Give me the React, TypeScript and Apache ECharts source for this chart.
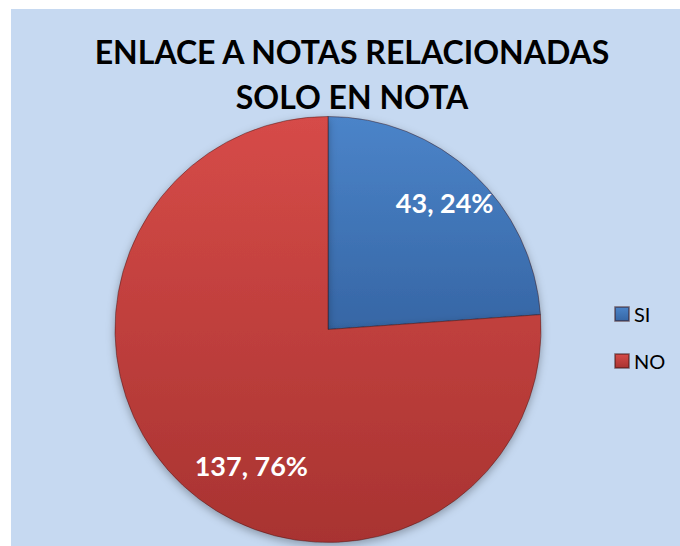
import React, { useEffect, useRef } from "react";
import * as echarts from "echarts";

const TITLE_LINES = ["ENLACE A NOTAS RELACIONADAS", "SOLO EN NOTA"];
const CATEGORIES = ["SI", "NO"];
const VALUES = [43, 137];
const TOP_COLORS = ["#4b84c9", "#d64b48"];
const BOTTOM_COLORS = ["#3666a5", "#a83331"];
const LABEL_SHIFT = [
  [42, -47],
  [-2, 56],
];

const FONT = "Lato, 'Open Sans', 'DejaVu Sans', sans-serif";

export default function App() {
  const ref = useRef<HTMLDivElement>(null);
  useEffect(() => {
    if (!ref.current) return;
    const chart = echarts.init(ref.current, undefined, { renderer: "svg" });
    const grad = (i: number) =>
      new echarts.graphic.LinearGradient(0, 0, 0, 1, [
        { offset: 0, color: TOP_COLORS[i] },
        { offset: 1, color: BOTTOM_COLORS[i] },
      ]);
    chart.setOption({
      animation: false,
      backgroundColor: "#c6d9f1",
      title: {
        text: TITLE_LINES.join("\n"),
        left: 341,
        textAlign: "center",
        top: 20,
        padding: 0,
        textStyle: {
          fontFamily: FONT,
          fontWeight: "bold",
          fontSize: 32,
          lineHeight: 45,
          color: "#000",
        },
      },
      legend: {
        orient: "vertical",
        left: 598,
        top: 290,
        itemWidth: 14,
        itemHeight: 14,
        itemGap: 27,
        icon: "rect",
        data: CATEGORIES,
        textStyle: { fontFamily: FONT, fontSize: 20, color: "#000" },
      },
      series: [
        {
          type: "pie",
          center: [317, 320.5],
          radius: [0, 213],
          startAngle: 90,
          clockwise: true,
          percentPrecision: 0,
          avoidLabelOverlap: false,
          itemStyle: {
            borderColor: "rgba(60,20,20,0.45)",
            borderWidth: 1,
            shadowBlur: 8,
            shadowOffsetY: 3,
            shadowColor: "rgba(0,0,0,0.3)",
          },
          label: {
            show: true,
            position: "inside",
            formatter: "{c}, {d}%",
            color: "#fff",
            fontFamily: FONT,
            fontWeight: "bold",
            fontSize: 27,
          },
          labelLine: { show: false },
          labelLayout: (params: any) => {
            const s = LABEL_SHIFT[params.dataIndex] || [0, 0];
            return { dx: s[0], dy: s[1] };
          },
          data: CATEGORIES.map((name, i) => ({
            name,
            value: VALUES[i],
            itemStyle: { color: grad(i) },
          })),
        },
      ],
    });
    return () => chart.dispose();
  }, []);
  return (
    <div
      ref={ref}
      style={{ position: "absolute", left: 11, top: 9, width: 669, height: 537 }}
    />
  );
}
